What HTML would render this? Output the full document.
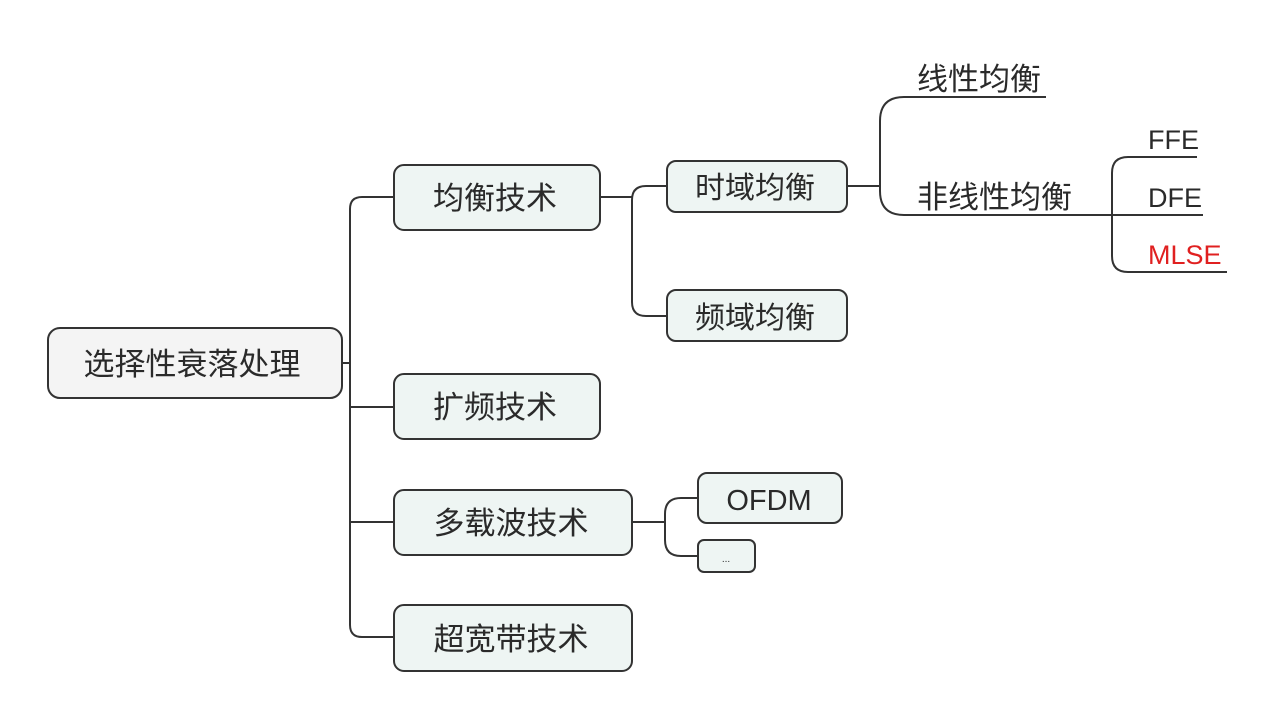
<!DOCTYPE html>
<html><head><meta charset="utf-8"><style>
html,body{margin:0;padding:0;background:#fff;width:1280px;height:720px;overflow:hidden}
text{font-family:"Liberation Sans","Noto Sans CJK SC",sans-serif;fill:#2a2a2a}
</style></head><body>
<svg width="1280" height="720" viewBox="0 0 1280 720" xmlns="http://www.w3.org/2000/svg">
<g fill="none" stroke="#333" stroke-width="2">
<path d="M342 363 H350"/>
<path d="M394 197 H362 Q350 197 350 209 V625 Q350 637 362 637 H394"/>
<path d="M350 407 Q350 407 362 407 H394"/>
<path d="M350 522 H394"/>
<path d="M600 197 H632"/>
<path d="M667 186 H646 Q632 186 632 200 V302 Q632 316 646 316 H667"/>
<path d="M847 186 H880"/>
<path d="M1046 97 H904 Q880 97 880 121 V191 Q880 215 904 215 H1112"/>
<path d="M1197 157 H1128 Q1112 157 1112 173 V256 Q1112 272 1128 272 H1227"/>
<path d="M1112 215 H1203"/>
<path d="M632 522 H665"/>
<path d="M698 498 H681 Q665 498 665 514 V540 Q665 556 681 556 H698"/>
</g>
<g stroke="#333" stroke-width="2">
<rect x="48" y="328" width="294" height="70" rx="12" fill="#f4f4f4"/>
<rect x="394" y="165" width="206" height="65" rx="10" fill="#eef5f3"/>
<rect x="394" y="374" width="206" height="65" rx="10" fill="#eef5f3"/>
<rect x="394" y="490" width="238" height="65" rx="10" fill="#eef5f3"/>
<rect x="394" y="605" width="238" height="66" rx="10" fill="#eef5f3"/>
<rect x="667" y="161" width="180" height="51" rx="9" fill="#eef5f3"/>
<rect x="667" y="290" width="180" height="51" rx="9" fill="#eef5f3"/>
<rect x="698" y="473" width="144" height="50" rx="9" fill="#eef5f3"/>
<rect x="698" y="540" width="57" height="32" rx="6" fill="#eef5f3"/>
</g>
<g font-size="31" text-anchor="middle">
<text x="192" y="375">选择性衰落处理</text>
<text x="495" y="209">均衡技术</text>
<text x="495" y="418">扩频技术</text>
<text x="511" y="534">多载波技术</text>
<text x="511" y="650">超宽带技术</text>
<text x="755" y="198" font-size="30">时域均衡</text>
<text x="755" y="328" font-size="30">频域均衡</text>
<text x="769" y="510" font-size="29">OFDM</text>
<text x="726" y="562" font-size="10">...</text>
</g>
<g font-size="31">
<text x="917" y="90">线性均衡</text>
<text x="917" y="208">非线性均衡</text>
</g>
<g font-size="27">
<text x="1148" y="149">FFE</text>
<text x="1148" y="207">DFE</text>
<text x="1148" y="264" style="fill:#e02020">MLSE</text>
</g>
</svg>
</body></html>
